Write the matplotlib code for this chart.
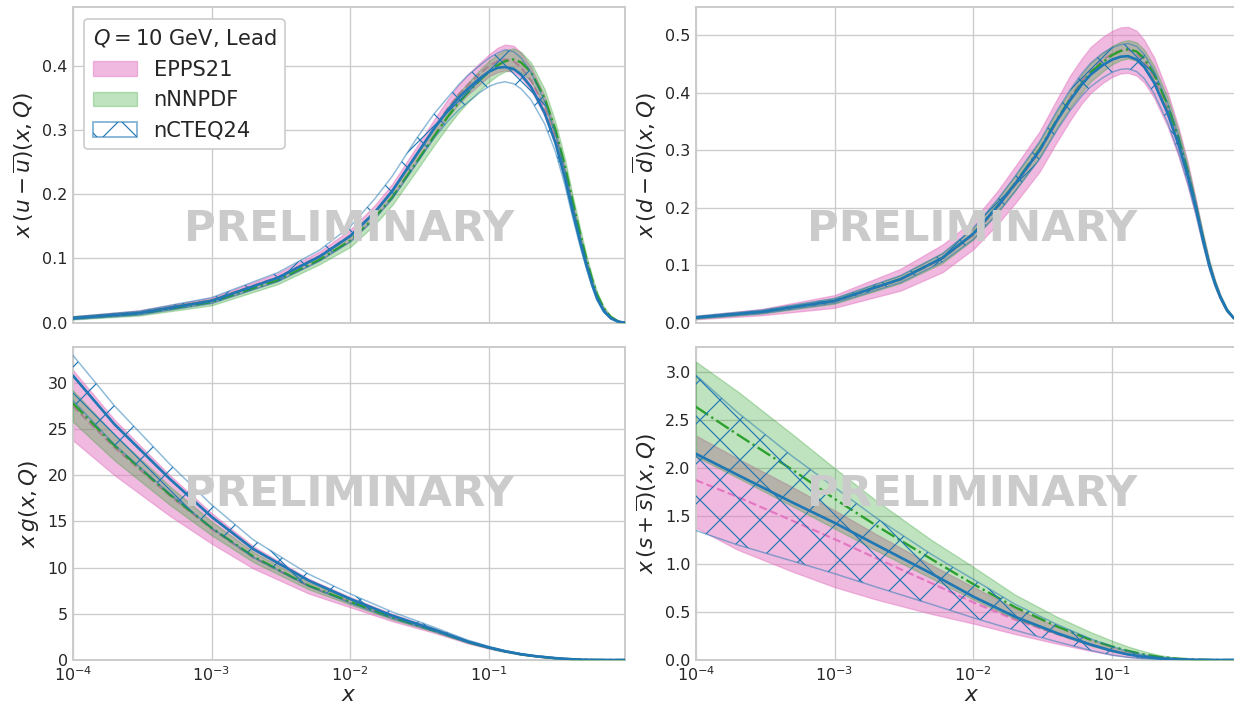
import matplotlib
matplotlib.use("Agg")
import matplotlib.pyplot as plt
import seaborn as sns
from matplotlib.patches import Patch

# ---------------- data ----------------
# x grid used for the valence panels (denser around the peak)
X_V = [1e-4, 3e-4, 1e-3, 3e-3, 6e-3, 1e-2, 1.5e-2, 2e-2, 3e-2, 4e-2, 5e-2, 6e-2,
       7e-2, 8.5e-2, 0.1, 0.115, 0.13, 0.15, 0.17, 0.2, 0.25, 0.3, 0.35, 0.4,
       0.45, 0.5, 0.55, 0.6, 0.67, 0.75, 0.85, 0.95]
# x grid used for the gluon and strange panels
X_GS = [1e-4, 2e-4, 5e-4, 1e-3, 2e-3, 5e-3, 1e-2, 2e-2, 4e-2, 7e-2, 0.1, 0.13,
        0.17, 0.22, 0.3, 0.4, 0.5, 0.6, 0.75, 0.95]

# x (u - ubar)
UV_EPPS_C = [.008, .016, .035, .071, .104, .136, .173, .205, .262, .303, .333, .355, .370, .387, .400, .407, .410, .407, .397, .377, .335, .287, .232, .177, .131, .093, .062, .038, .019, .008, .002, 0]
UV_EPPS_LO = [.006, .013, .031, .065, .097, .127, .163, .194, .250, .290, .319, .340, .355, .371, .384, .390, .393, .390, .381, .362, .322, .275, .222, .169, .125, .088, .058, .035, .017, .007, .001, 0]
UV_EPPS_HI = [.010, .019, .039, .077, .111, .145, .183, .216, .274, .316, .347, .370, .386, .404, .418, .428, .433, .431, .420, .398, .353, .301, .243, .186, .138, .098, .066, .041, .021, .009, .002, .001]
UV_NNPDF_C = [.007, .014, .032, .066, .098, .128, .164, .195, .250, .290, .320, .342, .358, .377, .391, .401, .407, .410, .405, .390, .350, .300, .245, .188, .140, .100, .068, .043, .022, .009, .002, 0]
UV_NNPDF_LO = [.005, .011, .027, .060, .091, .118, .153, .183, .237, .276, .305, .327, .343, .361, .375, .385, .391, .394, .390, .376, .337, .289, .235, .180, .133, .094, .063, .039, .019, .007, .001, 0]
UV_NNPDF_HI = [.010, .018, .037, .072, .105, .138, .175, .207, .263, .304, .335, .357, .373, .393, .408, .418, .424, .427, .421, .405, .364, .312, .256, .197, .148, .106, .073, .047, .025, .011, .003, .001]
UV_NCTEQ_C = [.007, .015, .034, .070, .103, .135, .172, .205, .262, .302, .330, .350, .364, .380, .391, .397, .398, .395, .386, .367, .327, .280, .226, .172, .127, .090, .060, .037, .018, .007, .0015, 0]
UV_NCTEQ_LO = [.005, .012, .030, .064, .096, .126, .162, .193, .248, .287, .313, .331, .343, .358, .368, .373, .375, .372, .364, .347, .310, .266, .215, .163, .120, .085, .056, .034, .016, .006, .001, 0]
UV_NCTEQ_HI = [.009, .018, .039, .078, .113, .150, .193, .228, .287, .325, .350, .370, .385, .400, .412, .420, .425, .422, .412, .390, .345, .295, .238, .182, .135, .096, .065, .040, .020, .008, .002, 0]

# x (d - dbar)
DV_EPPS_C = [.009, .018, .037, .075, .112, .153, .201, .240, .298, .352, .392, .420, .440, .457, .468, .474, .475, .469, .455, .427, .372, .315, .258, .200, .145, .100, .068, .044, .021, .008, .002, 0]
DV_EPPS_LO = [.006, .013, .026, .056, .088, .128, .172, .208, .263, .315, .353, .381, .400, .417, .428, .434, .435, .430, .418, .392, .342, .290, .237, .185, .134, .092, .062, .040, .019, .007, .001, 0]
DV_EPPS_HI = [.012, .024, .048, .094, .136, .178, .230, .272, .333, .389, .431, .459, .480, .497, .508, .514, .515, .508, .492, .462, .402, .340, .279, .215, .156, .108, .074, .048, .023, .009, .002, 0]
DV_NNPDF_C = [.009, .019, .038, .076, .113, .155, .204, .243, .302, .354, .390, .416, .436, .453, .466, .473, .476, .472, .460, .433, .380, .322, .263, .203, .148, .102, .069, .045, .022, .008, .002, 0]
DV_NNPDF_LO = [.007, .016, .033, .069, .104, .145, .192, .230, .288, .339, .375, .400, .420, .437, .450, .457, .460, .456, .445, .419, .367, .310, .252, .194, .140, .096, .064, .041, .019, .007, .001, 0]
DV_NNPDF_HI = [.011, .022, .043, .083, .122, .165, .216, .256, .316, .369, .405, .432, .452, .469, .482, .489, .492, .488, .475, .447, .393, .334, .274, .212, .156, .108, .074, .049, .025, .009, .002, 0]
DV_NCTEQ_C = [.009, .019, .038, .076, .113, .155, .203, .242, .300, .352, .388, .414, .432, .448, .458, .463, .464, .458, .445, .418, .365, .310, .255, .200, .145, .100, .068, .045, .022, .008, .002, 0]
DV_NCTEQ_LO = [.007, .016, .034, .070, .106, .145, .191, .229, .285, .335, .370, .394, .411, .426, .436, .441, .442, .437, .425, .399, .349, .296, .243, .190, .137, .094, .064, .042, .020, .007, .001, 0]
DV_NCTEQ_HI = [.011, .022, .042, .082, .120, .165, .215, .255, .315, .369, .406, .433, .452, .469, .479, .484, .486, .481, .467, .439, .383, .325, .267, .210, .153, .106, .072, .048, .024, .009, .002, 0]

# x g
G_EPPS_C = [27.5, 23.0, 17.8, 14.2, 11.1, 8.0, 6.25, 4.6, 3.2, 1.95, 1.33, 0.94, 0.62, 0.40, 0.2, 0.075, 0.025, 0.007, 0.001, 0.0]
G_EPPS_LO = [23.8, 20.0, 15.6, 12.6, 9.9, 7.2, 5.7, 4.2, 2.95, 1.8, 1.23, 0.87, 0.57, 0.37, 0.18, 0.065, 0.02, 0.005, 0.0007, 0.0]
G_EPPS_HI = [31.4, 26.0, 20.0, 15.9, 12.3, 8.8, 6.8, 5.0, 3.45, 2.1, 1.43, 1.01, 0.67, 0.43, 0.22, 0.085, 0.03, 0.009, 0.0015, 0.0]
G_NNPDF_C = [27.8, 23.2, 17.9, 14.3, 11.2, 8.05, 6.3, 4.6, 3.2, 1.95, 1.32, 0.93, 0.61, 0.39, 0.19, 0.072, 0.024, 0.007, 0.001, 0.0]
G_NNPDF_LO = [25.8, 21.6, 16.8, 13.5, 10.6, 7.65, 6.0, 4.4, 3.07, 1.87, 1.26, 0.89, 0.58, 0.37, 0.18, 0.066, 0.021, 0.006, 0.0008, 0.0]
G_NNPDF_HI = [29.2, 24.4, 18.8, 15.0, 11.7, 8.4, 6.55, 4.8, 3.33, 2.03, 1.38, 0.97, 0.64, 0.41, 0.2, 0.078, 0.027, 0.008, 0.0012, 0.0]
G_NCTEQ_C = [30.8, 25.5, 19.6, 15.5, 12.0, 8.6, 6.6, 4.8, 3.3, 2.0, 1.35, 0.95, 0.62, 0.40, 0.2, 0.075, 0.025, 0.007, 0.001, 0.0]
G_NCTEQ_LO = [28.1, 23.3, 18.0, 14.3, 11.1, 8.0, 6.15, 4.5, 3.1, 1.87, 1.26, 0.88, 0.57, 0.37, 0.18, 0.065, 0.02, 0.005, 0.0007, 0.0]
G_NCTEQ_HI = [33.0, 27.5, 21.2, 16.8, 13.0, 9.3, 7.15, 5.2, 3.55, 2.15, 1.45, 1.02, 0.67, 0.43, 0.22, 0.085, 0.03, 0.009, 0.0015, 0.0]

# x (s + sbar)
S_EPPS_C = [1.875, 1.7, 1.45, 1.26, 1.06, 0.80, 0.60, 0.42, 0.27, 0.16, 0.10, 0.062, 0.035, 0.018, 0.007, 0.002, 0.0006, 0.0001, 0.0, 0.0]
S_EPPS_LO = [1.38, 1.15, 0.92, 0.76, 0.63, 0.48, 0.38, 0.27, 0.17, 0.095, 0.055, 0.032, 0.017, 0.008, 0.003, 0.001, 0.0003, 0.0, 0.0, 0.0]
S_EPPS_HI = [2.34, 2.1, 1.8, 1.56, 1.31, 0.99, 0.76, 0.54, 0.35, 0.21, 0.135, 0.085, 0.05, 0.026, 0.010, 0.003, 0.001, 0.0002, 0.0, 0.0]
S_NNPDF_C = [2.64, 2.35, 1.98, 1.68, 1.40, 1.05, 0.79, 0.55, 0.35, 0.21, 0.14, 0.095, 0.058, 0.032, 0.014, 0.005, 0.0015, 0.0004, 0.0, 0.0]
S_NNPDF_LO = [2.12, 1.9, 1.6, 1.37, 1.14, 0.85, 0.63, 0.43, 0.27, 0.15, 0.09, 0.06, 0.035, 0.018, 0.007, 0.002, 0.0006, 0.0001, 0.0, 0.0]
S_NNPDF_HI = [3.11, 2.8, 2.35, 2.0, 1.66, 1.25, 0.97, 0.68, 0.45, 0.29, 0.20, 0.14, 0.09, 0.05, 0.022, 0.008, 0.0025, 0.0007, 0.0001, 0.0]
S_NCTEQ_C = [2.15, 1.93, 1.64, 1.43, 1.20, 0.90, 0.66, 0.45, 0.28, 0.16, 0.095, 0.058, 0.032, 0.016, 0.006, 0.002, 0.0006, 0.0001, 0.0, 0.0]
S_NCTEQ_LO = [1.35, 1.20, 1.03, 0.90, 0.76, 0.58, 0.44, 0.31, 0.19, 0.10, 0.05, 0.028, 0.014, 0.006, 0.002, 0.0005, 0.0001, 0.0, 0.0, 0.0]
S_NCTEQ_HI = [2.97, 2.58, 2.12, 1.80, 1.48, 1.10, 0.84, 0.58, 0.37, 0.22, 0.14, 0.09, 0.053, 0.028, 0.011, 0.004, 0.0012, 0.0003, 0.0, 0.0]

YLABELS = [r"$x\,(u-\overline{u})(x,Q)$", r"$x\,(d-\overline{d})(x,Q)$",
           r"$x\,g(x,Q)$", r"$x\,(s+\overline{s})(x,Q)$"]
YLIMS = [(0, 0.491), (0, 0.549), (0, 33.9), (0, 3.265)]
SET_NAMES = ["EPPS21", "nNNPDF", "nCTEQ24"]
LEGEND_TITLE = r"$Q = 10$ GeV, Lead"
WATERMARK = "PRELIMINARY"

PANELS = [
    (X_V, (UV_EPPS_LO, UV_EPPS_C, UV_EPPS_HI), (UV_NNPDF_LO, UV_NNPDF_C, UV_NNPDF_HI), (UV_NCTEQ_LO, UV_NCTEQ_C, UV_NCTEQ_HI)),
    (X_V, (DV_EPPS_LO, DV_EPPS_C, DV_EPPS_HI), (DV_NNPDF_LO, DV_NNPDF_C, DV_NNPDF_HI), (DV_NCTEQ_LO, DV_NCTEQ_C, DV_NCTEQ_HI)),
    (X_GS, (G_EPPS_LO, G_EPPS_C, G_EPPS_HI), (G_NNPDF_LO, G_NNPDF_C, G_NNPDF_HI), (G_NCTEQ_LO, G_NCTEQ_C, G_NCTEQ_HI)),
    (X_GS, (S_EPPS_LO, S_EPPS_C, S_EPPS_HI), (S_NNPDF_LO, S_NNPDF_C, S_NNPDF_HI), (S_NCTEQ_LO, S_NCTEQ_C, S_NCTEQ_HI)),
]

# ---------------- style ----------------
sns.set_theme(style="whitegrid")
plt.rcParams["font.family"] = ["DejaVu Sans"]
plt.rcParams["hatch.linewidth"] = 0.7
plt.rcParams["axes.edgecolor"] = "0.8"
plt.rcParams["axes.linewidth"] = 1.2
plt.rcParams["grid.linewidth"] = 0.8

DPI = 120
W, H = 1234, 707
fig = plt.figure(figsize=(W / DPI, H / DPI), dpi=DPI)

PINK = "tab:pink"
GREEN = "tab:green"
BLUE = "tab:blue"
BLUE_EDGE = (0.1216, 0.4667, 0.7059, 0.5)

def px_rect(x0, x1, y0, y1):
    return [x0 / W, 1 - y1 / H, (x1 - x0) / W, (y1 - y0) / H]

rects = [px_rect(72.7, 625.0, 7.3, 322.7), px_rect(695.7, 1248.0, 7.3, 322.7),
         px_rect(72.7, 625.0, 346.7, 660.0), px_rect(695.7, 1248.0, 346.7, 660.0)]
wm_y = [0.259, 0.259, 0.49, 0.49]

for i, (rect, data) in enumerate(zip(rects, PANELS)):
    ax = fig.add_axes(rect)
    xs, (e_lo, e_c, e_hi), (n_lo, n_c, n_hi), (c_lo, c_c, c_hi) = data

    h_e = ax.fill_between(xs, e_lo, e_hi, color=PINK, alpha=0.5, lw=0.8, zorder=2)
    ax.plot(xs, e_c, ls="--", color=PINK, lw=1.3, zorder=3)
    h_n = ax.fill_between(xs, n_lo, n_hi, color=GREEN, alpha=0.3, lw=0.8, zorder=4)
    ax.plot(xs, n_c, ls="-.", color=GREEN, lw=1.4, zorder=5)
    ax.fill_between(xs, c_lo, c_hi, facecolor="none", edgecolor=BLUE, hatch="x",
                    lw=0, zorder=6)
    ax.plot(xs, c_lo, color=BLUE_EDGE, lw=0.9, zorder=6)
    ax.plot(xs, c_hi, color=BLUE_EDGE, lw=0.9, zorder=6)
    ax.plot(xs, c_c, ls="-", color=BLUE, lw=1.6, zorder=7)

    ax.set_xscale("log")
    ax.set_xlim(1e-4, 0.95)
    ax.set_ylim(*YLIMS[i])
    ax.set_ylabel(YLABELS[i], fontsize=13, color="0.15")
    ax.tick_params(axis="both", labelsize=9.6, colors="0.15", length=0, pad=3)
    ax.grid(True, which="major", color="0.8", lw=0.8)
    ax.grid(False, which="minor")
    ax.minorticks_off()
    for s in ax.spines.values():
        s.set_visible(True)
        s.set_color("0.8")
    if i < 2:
        ax.tick_params(axis="x", labelbottom=False)
    else:
        ax.set_xlabel(r"$x$", fontsize=13, color="0.15", labelpad=1)
    ax.text(0.5, wm_y[i], WATERMARK, transform=ax.transAxes, ha="center",
            va="baseline", fontsize=26, fontweight="bold", color="#cbcbcb", zorder=20)

    if i == 0:
        hatch_handle = (Patch(facecolor="none", edgecolor=BLUE, hatch="x", lw=0),
                        Patch(facecolor="none", edgecolor=BLUE_EDGE, lw=1.2))
        leg = ax.legend([h_e, h_n, hatch_handle], SET_NAMES, title=LEGEND_TITLE,
                        loc="upper left", fontsize=12.6, title_fontsize=12.6,
                        frameon=True, framealpha=1.0, edgecolor="0.8",
                        borderaxespad=0.55, handlelength=2.1)
        leg._legend_box.align = "left"
        leg.set_zorder(30)

fig.savefig("out.png", dpi=DPI)
